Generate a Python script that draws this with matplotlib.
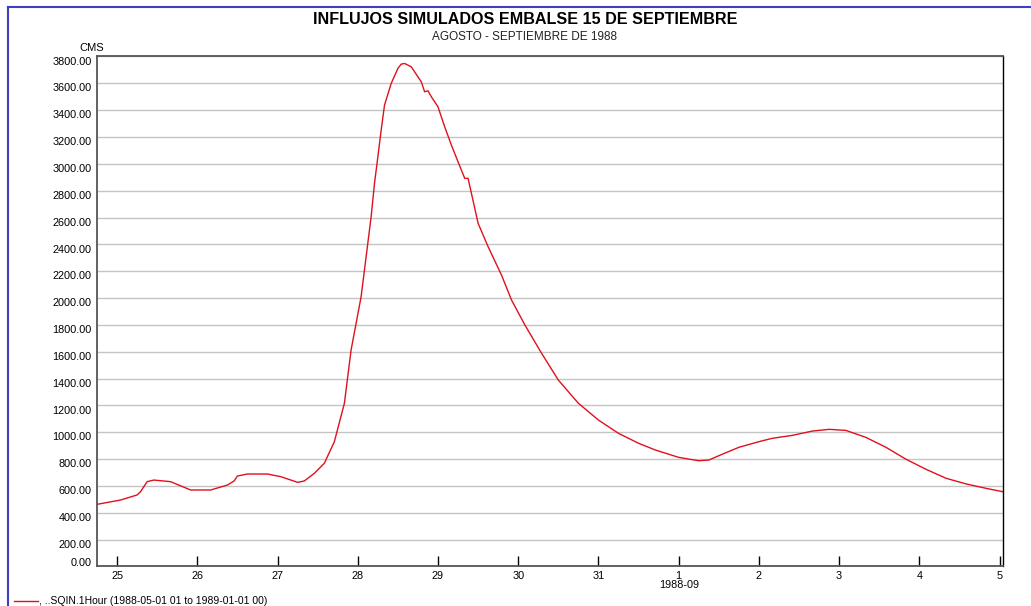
import numpy as np
import pandas as pd
import matplotlib
matplotlib.use("Agg")
import matplotlib.pyplot as plt
import matplotlib.dates as mdates
from matplotlib.lines import Line2D
from matplotlib.transforms import ScaledTranslation

plt.rcParams['font.family'] = ['Liberation Sans', 'DejaVu Sans']

# lecturas aproximadas del hidrograma (CMS)
fechas = [
    "1988-08-24 18:00", "1988-08-25 01:00", "1988-08-25 06:00", "1988-08-25 07:00",
    "1988-08-25 09:00", "1988-08-25 11:00", "1988-08-25 16:00", "1988-08-25 22:00",
    "1988-08-26 04:00", "1988-08-26 09:00", "1988-08-26 11:00", "1988-08-26 12:00",
    "1988-08-26 15:00", "1988-08-26 21:00", "1988-08-27 01:00", "1988-08-27 06:00",
    "1988-08-27 08:00", "1988-08-27 11:00", "1988-08-27 14:00", "1988-08-27 17:00",
    "1988-08-27 20:00", "1988-08-27 22:00", "1988-08-28 01:00", "1988-08-28 02:00",
    "1988-08-28 04:00", "1988-08-28 05:00", "1988-08-28 06:00", "1988-08-28 07:00",
    "1988-08-28 08:00", "1988-08-28 10:00", "1988-08-28 12:00", "1988-08-28 13:00",
    "1988-08-28 14:00", "1988-08-28 16:00", "1988-08-28 17:00", "1988-08-28 19:00",
    "1988-08-28 20:00", "1988-08-28 21:00", "1988-08-28 22:00", "1988-08-29 00:00",
    "1988-08-29 02:00", "1988-08-29 04:00", "1988-08-29 06:00", "1988-08-29 08:00",
    "1988-08-29 09:00", "1988-08-29 10:00", "1988-08-29 12:00", "1988-08-29 15:00",
    "1988-08-29 19:00", "1988-08-29 22:00", "1988-08-30 02:00", "1988-08-30 07:00",
    "1988-08-30 12:00", "1988-08-30 18:00", "1988-08-31 00:00", "1988-08-31 06:00",
    "1988-08-31 12:00", "1988-08-31 17:00", "1988-09-01 00:00", "1988-09-01 06:00",
    "1988-09-01 09:00", "1988-09-01 13:00", "1988-09-01 18:00", "1988-09-02 00:00",
    "1988-09-02 04:00", "1988-09-02 10:00", "1988-09-02 16:00", "1988-09-02 21:00",
    "1988-09-03 02:00", "1988-09-03 08:00", "1988-09-03 14:00", "1988-09-03 20:00",
    "1988-09-04 02:00", "1988-09-04 08:00", "1988-09-04 14:00", "1988-09-04 20:00",
    "1988-09-05 01:00",
]
caudal = [
    463, 495, 533, 557,
    632, 644, 632, 570,
    570, 607, 637, 674,
    689, 689, 669, 627,
    637, 694, 769, 930,
    1216, 1613, 2010, 2209,
    2606, 2854, 3050, 3252,
    3438, 3599, 3711, 3743,
    3748, 3723, 3686, 3611,
    3537, 3544, 3500, 3425,
    3276, 3140, 3015, 2892,
    2892, 2780, 2557, 2382,
    2171, 1985, 1799, 1588,
    1389, 1216, 1091, 992,
    918, 868, 813, 788,
    793, 836, 888, 930,
    955, 977, 1009, 1022,
    1014, 962, 888, 799,
    724, 657, 615, 582,
    557,
]
t = pd.to_datetime(fechas)

fig = plt.figure(figsize=(10.31, 6.06), dpi=100)
ax = fig.add_axes([0.0941, 0.0652, 0.8787, 0.8416])

ax.plot(t, caudal, color='#e0101c', lw=1.0)

ax.set_ylim(0, 3800)
ax.set_yticks(np.arange(0, 3801, 200))
ax.yaxis.set_major_formatter(matplotlib.ticker.FormatStrFormatter('%.2f'))
ax.grid(axis='y', color='#c4c4c4', lw=1.0)
ax.set_axisbelow(True)

ax.set_xlim(pd.Timestamp("1988-08-24 18:00"), pd.Timestamp("1988-09-05 01:00"))
ax.xaxis.set_major_locator(mdates.DayLocator())
ax.xaxis.set_major_formatter(mdates.DateFormatter('%-d'))
ax.tick_params(axis='x', direction='in', length=7, width=1, color='black',
               labelsize=7.8, pad=3)
ax.tick_params(axis='y', length=0, labelsize=7.8, pad=4)

# etiquetas del eje y un poco por debajo de la linea (la de 0 un poco arriba)
for lab, v in zip(ax.get_yticklabels(), ax.get_yticks()):
    dy = 3 / 72 if v == 0 else -3 / 72
    lab.set_transform(lab.get_transform() + ScaledTranslation(0, dy, fig.dpi_scale_trans))

for s in ['left', 'bottom', 'top']:
    ax.spines[s].set_color('#555555')
    ax.spines[s].set_linewidth(1.3)
ax.spines['right'].set_color('black')
ax.spines['right'].set_linewidth(1.0)

fig.text(525 / 1031, 1 - 19 / 606, "INFLUJOS SIMULADOS EMBALSE 15 DE SEPTIEMBRE",
         ha='center', va='center', fontsize=11.6, fontweight='bold')
fig.text(525 / 1031, 1 - 37 / 606, "AGOSTO - SEPTIEMBRE DE 1988",
         ha='center', va='center', fontsize=8.5, color='#222222')
fig.text(92 / 1031, 1 - 48 / 606, "CMS", ha='center', va='center', fontsize=8)
fig.text(679 / 1031, 1 - 585 / 606, "1988-09", ha='center', va='center', fontsize=7.8)

# leyenda
fig.add_artist(Line2D([14 / 1031, 38 / 1031], [1 - 601 / 606, 1 - 601 / 606],
                      color='#e0101c', lw=1.0))
fig.text(39 / 1031, 1 - 601 / 606, ", ..SQIN.1Hour (1988-05-01 01 to 1989-01-01 00)",
         ha='left', va='center', fontsize=7.5)

# marco azul
fig.add_artist(Line2D([8 / 1031, 1.0], [1 - 7 / 606, 1 - 7 / 606], color='#3f3fc0', lw=1.5))
fig.add_artist(Line2D([8 / 1031, 8 / 1031], [0, 1 - 7 / 606], color='#3f3fc0', lw=1.5))

fig.savefig("out.png", dpi=100)
